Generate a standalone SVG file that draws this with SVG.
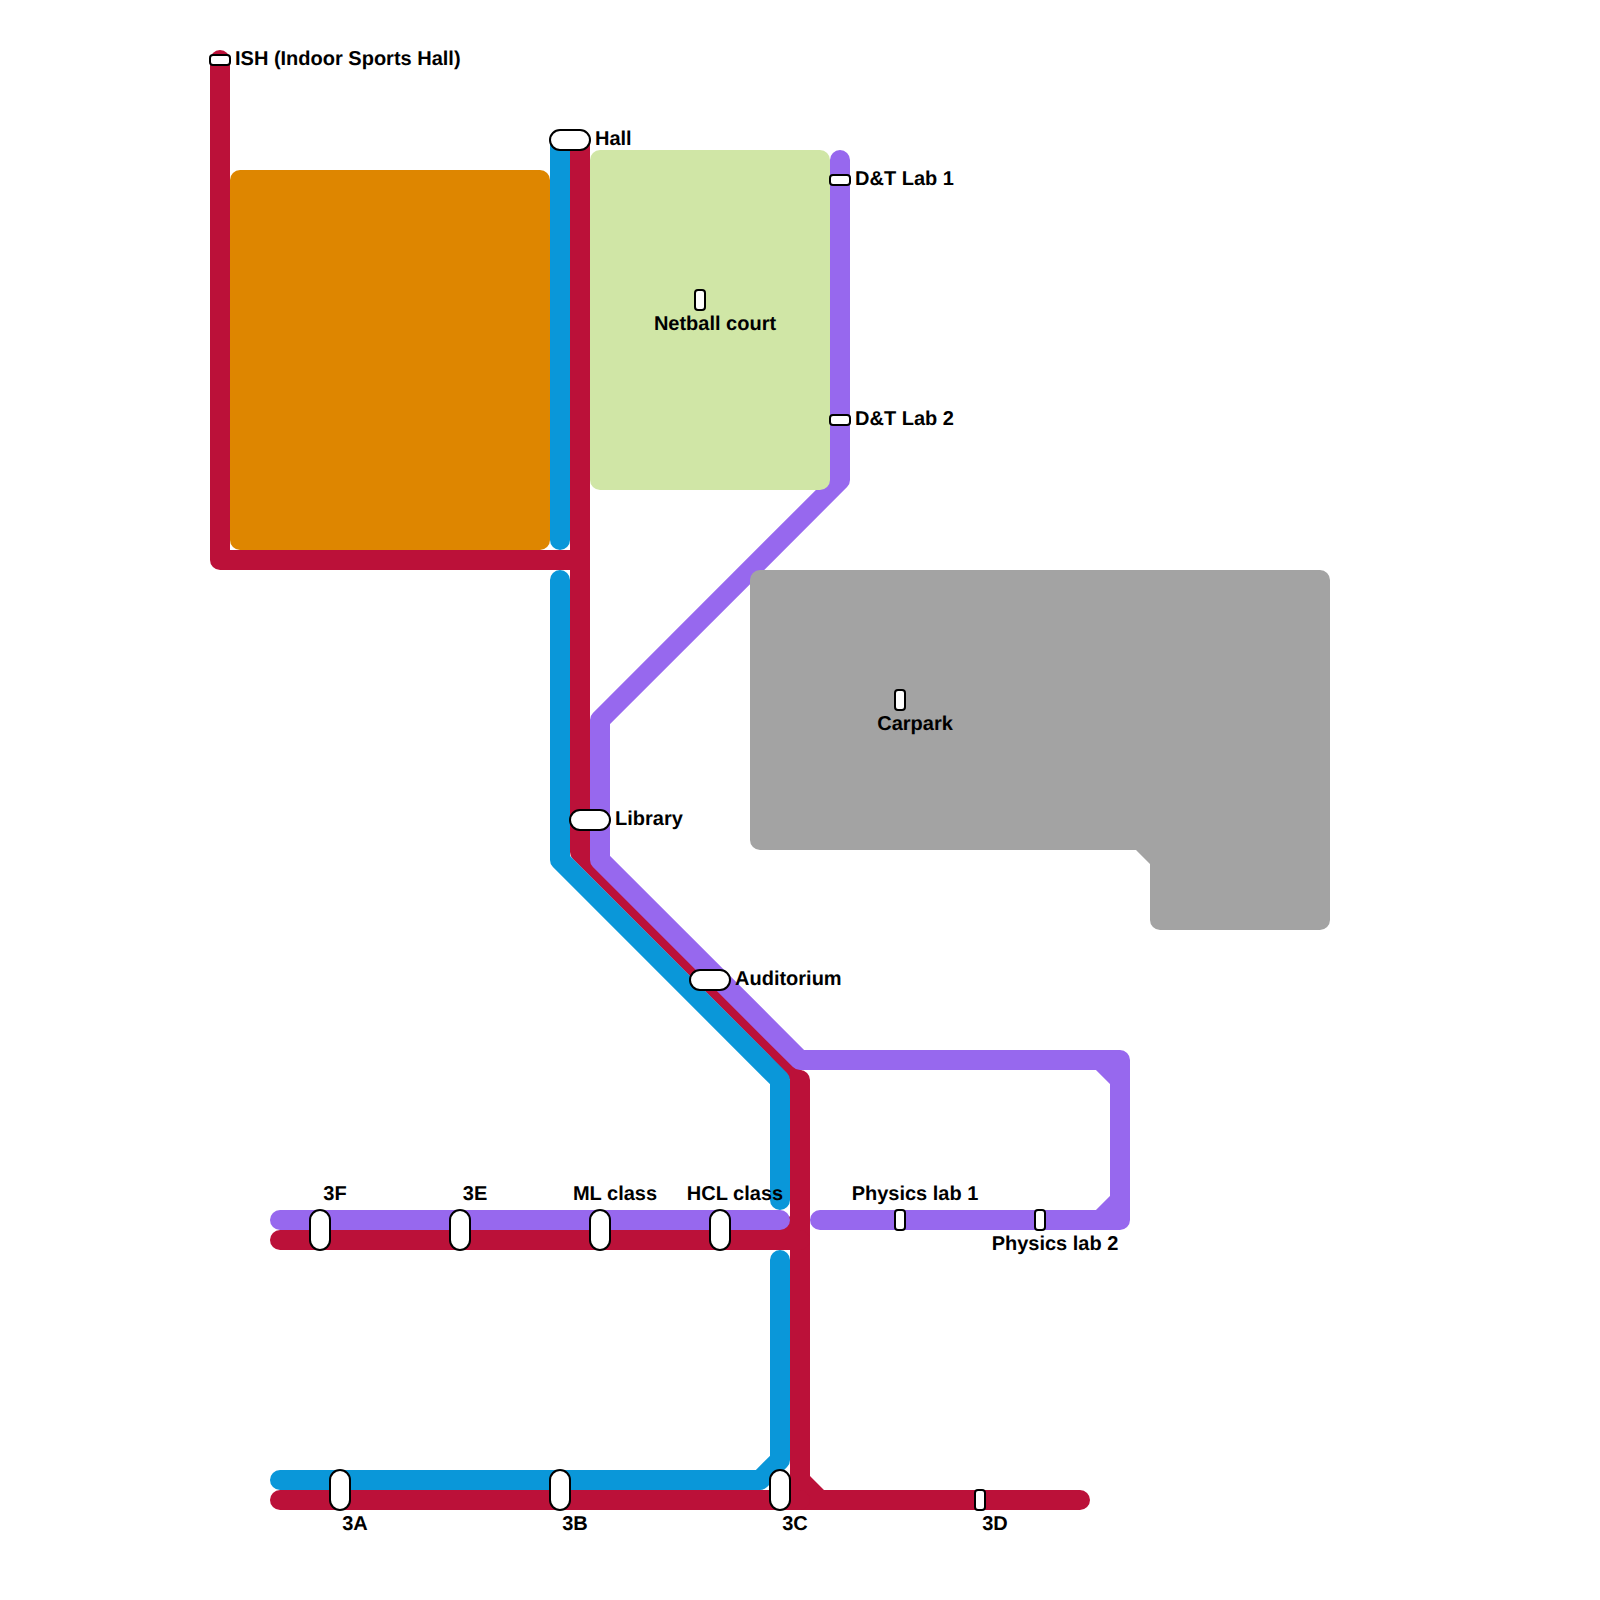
<svg xmlns="http://www.w3.org/2000/svg" width="1600" height="1600" viewBox="0 0 1600 1600">
<style>
.l{fill:none;stroke-width:20;stroke-linecap:round;stroke-linejoin:round}
.b{fill:none;stroke-width:20;stroke-linecap:butt;stroke-linejoin:round}
.red{stroke:#bb1139}.blue{stroke:#0a97d9}.purple{stroke:#9768ee}
.s{fill:#fff;stroke:#000;stroke-width:2}
text{font-family:"Liberation Sans",Arial,sans-serif;font-weight:700;font-size:20px;fill:#000;text-rendering:geometricPrecision}
.m{text-anchor:middle}
</style>
<g id="connectors">
<path class="l red" d="M220 60V560H580"/>
<path class="b red" d="M580 140V852L800 1072"/>
<path d="M770 1056L800 1070A10 10 0 0 1 810 1080V1476L824 1490H1080A10 10 0 0 1 1080 1510H790V1080Z" fill="#bb1139"/>
<path class="l red" d="M280 1240H800"/>
<path d="M775 1231L790 1216V1231Z" fill="#bb1139"/>
<path class="l red" d="M280 1500H800"/>
<path class="l blue" d="M560 140V540"/>
<path class="l blue" d="M560 580V860L780 1080V1200"/>
<path class="l blue" d="M780 1260V1460L760 1480H280"/>
<path class="l purple" d="M840 160V480L600 720V860L800 1060H1120V1220H820"/>
<path class="b purple" d="M1100 1060L1120 1080"/>
<path class="b purple" d="M1120 1200L1100 1220"/>
<path class="l purple" d="M280 1220H780"/>
</g>
<g id="areas">
<rect id="sports-block" x="230" y="170" width="320" height="380" rx="10" fill="#de8600"/>
<rect id="netball-area" x="590" y="150" width="240" height="340" rx="10" fill="#d0e6a6"/>
<path id="carpark-area" d="M760 570H1320A10 10 0 0 1 1330 580V920A10 10 0 0 1 1320 930H1160A10 10 0 0 1 1150 920V864L1136 850H760A10 10 0 0 1 750 840V580A10 10 0 0 1 760 570Z" fill="#a3a3a3"/>
</g>
<g id="ish"><rect class="s" x="210" y="55" width="20" height="10" rx="3"/><text x="235" y="65">ISH (Indoor Sports Hall)</text></g>
<g id="hall"><rect class="s" x="550" y="130" width="40" height="20" rx="10"/><text x="595" y="145">Hall</text></g>
<g id="dt1"><rect class="s" x="830" y="175" width="20" height="10" rx="3"/><text x="855" y="185">D&amp;T Lab 1</text></g>
<g id="dt2"><rect class="s" x="830" y="415" width="20" height="10" rx="3"/><text x="855" y="425">D&amp;T Lab 2</text></g>
<g id="netball"><rect class="s" x="695" y="290" width="10" height="20" rx="3"/><text class="m" x="715" y="330">Netball court</text></g>
<g id="carpark"><rect class="s" x="895" y="690" width="10" height="20" rx="3"/><text class="m" x="915" y="730">Carpark</text></g>
<g id="library"><rect class="s" x="570" y="810" width="40" height="20" rx="10"/><text x="615" y="825">Library</text></g>
<g id="auditorium"><rect class="s" x="690" y="970" width="40" height="20" rx="10"/><text x="735" y="985">Auditorium</text></g>
<g id="s3f"><rect class="s" x="310" y="1210" width="20" height="40" rx="10"/><text class="m" x="335" y="1200">3F</text></g>
<g id="s3e"><rect class="s" x="450" y="1210" width="20" height="40" rx="10"/><text class="m" x="475" y="1200">3E</text></g>
<g id="ml"><rect class="s" x="590" y="1210" width="20" height="40" rx="10"/><text class="m" x="615" y="1200">ML class</text></g>
<g id="hcl"><rect class="s" x="710" y="1210" width="20" height="40" rx="10"/><text class="m" x="735" y="1200">HCL class</text></g>
<g id="lab1"><rect class="s" x="895" y="1210" width="10" height="20" rx="3"/><text class="m" x="915" y="1200">Physics lab 1</text></g>
<g id="lab2"><rect class="s" x="1035" y="1210" width="10" height="20" rx="3"/><text class="m" x="1055" y="1250">Physics lab 2</text></g>
<g id="s3a"><rect class="s" x="330" y="1470" width="20" height="40" rx="10"/><text class="m" x="355" y="1530">3A</text></g>
<g id="s3b"><rect class="s" x="550" y="1470" width="20" height="40" rx="10"/><text class="m" x="575" y="1530">3B</text></g>
<g id="s3c"><rect class="s" x="770" y="1470" width="20" height="40" rx="10"/><text class="m" x="795" y="1530">3C</text></g>
<g id="s3d"><rect class="s" x="975" y="1490" width="10" height="20" rx="3"/><text class="m" x="995" y="1530">3D</text></g>
</svg>
